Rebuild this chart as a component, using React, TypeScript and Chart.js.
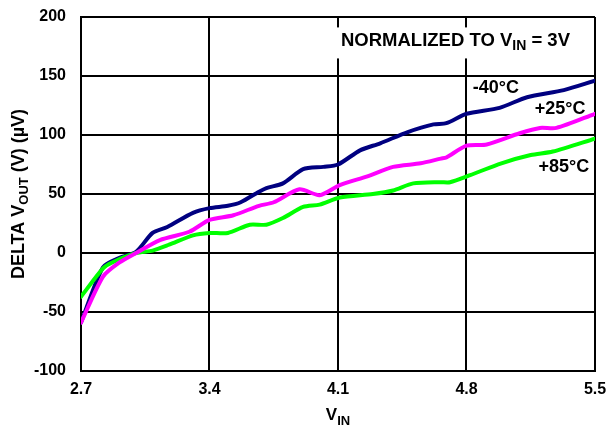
import { useEffect, useRef } from "react";
import { Chart, registerables } from "chart.js";
Chart.register(...registerables);

const X_TICKS = [2.7, 3.4, 4.1, 4.8, 5.5];
const Y_TICKS = [-100, -50, 0, 50, 100, 150, 200];

const VIN_M40 = [2.7, 2.82, 2.91, 3.0, 3.09, 3.17, 3.31, 3.4, 3.5, 3.57, 3.67, 3.71, 3.8, 3.91, 4.02, 4.1, 4.22, 4.33, 4.48, 4.62, 4.69, 4.8, 4.98, 5.13, 5.33, 5.5];
const DV_M40 = [-59, -12, -4, 1, 17, 22, 34, 38, 40, 43, 52, 55, 59, 71, 73, 75, 87, 93, 102.5, 109, 110, 118, 123, 132, 138, 146];

const VIN_P25 = [2.7, 2.82, 2.91, 3.0, 3.13, 3.29, 3.4, 3.53, 3.67, 3.75, 3.89, 4.0, 4.11, 4.26, 4.4, 4.55, 4.66, 4.69, 4.8, 4.91, 5.09, 5.2, 5.29, 5.5];
const DV_P25 = [-59, -20, -8, 0, 11, 18, 28, 32, 40, 43, 54, 49, 57.6, 65, 73, 76, 80, 81, 91, 92, 101.5, 106, 106, 118];

const VIN_P85 = [2.7, 2.82, 2.87, 3.0, 3.09, 3.18, 3.31, 3.4, 3.5, 3.62, 3.71, 3.8, 3.91, 4.0, 4.11, 4.29, 4.4, 4.51, 4.66, 4.71, 4.82, 4.99, 5.15, 5.27, 5.5];
const DV_P85 = [-37, -13, -8, 0, 2, 7, 15, 17, 17, 24, 24, 29.6, 39, 41, 47, 50, 53, 59, 60, 60, 66, 76, 83, 86, 97];

const SERIES_LABELS = ["-40°C", "+25°C", "+85°C"];
const LABEL_X = [4.96, 5.31, 5.33];
const LABEL_Y = [140, 122, 73];
const NOTE_X = 4.74;
const NOTE_Y = 181;

const FONT = '"Liberation Sans", Arial, Helvetica, sans-serif';

type Part = { t: string; sub?: boolean };

function drawRich(ctx: CanvasRenderingContext2D, parts: Part[], cx: number, baseY: number, main: number, sub: number, subDrop: number) {
  let total = 0;
  const widths = parts.map((p) => {
    ctx.font = `bold ${p.sub ? sub : main}px ${FONT}`;
    const w = ctx.measureText(p.t).width;
    total += w;
    return w;
  });
  let xx = cx - total / 2;
  ctx.textAlign = "left";
  ctx.textBaseline = "alphabetic";
  parts.forEach((p, i) => {
    ctx.font = `bold ${p.sub ? sub : main}px ${FONT}`;
    ctx.fillText(p.t, xx, baseY + (p.sub ? subDrop : 0));
    xx += widths[i];
  });
  return total;
}

const textPlugin = {
  id: "texts",
  afterDraw(chart: any) {
    const { ctx, scales, chartArea } = chart;
    const x = scales.x;
    const y = scales.y;
    ctx.save();
    ctx.fillStyle = "#000";
    ctx.font = `bold 18px ${FONT}`;
    ctx.textAlign = "center";
    ctx.textBaseline = "middle";
    SERIES_LABELS.forEach((t, i) => {
      ctx.fillText(t, x.getPixelForValue(LABEL_X[i]), y.getPixelForValue(LABEL_Y[i]));
    });

    // note with white background
    const nx = x.getPixelForValue(NOTE_X);
    const ny = y.getPixelForValue(NOTE_Y);
    const noteParts: Part[] = [{ t: "NORMALIZED TO V" }, { t: "IN", sub: true }, { t: " = 3V" }];
    let tw = 0;
    noteParts.forEach((p) => {
      ctx.font = `bold ${p.sub ? 14 : 18.5}px ${FONT}`;
      tw += ctx.measureText(p.t).width;
    });
    ctx.fillStyle = "#fff";
    ctx.fillRect(nx - tw / 2 - 5, ny - 12, tw + 10, 31);
    ctx.fillStyle = "#000";
    drawRich(ctx, noteParts, nx, ny + 6.5, 18.5, 14, 4);

    // x title
    const cxm = (chartArea.left + chartArea.right) / 2;
    drawRich(ctx, [{ t: "V" }, { t: "IN", sub: true }], cxm, 420, 17, 13, 5);

    // y title
    const cym = (chartArea.top + chartArea.bottom) / 2;
    ctx.translate(17, cym);
    ctx.rotate(-Math.PI / 2);
    drawRich(ctx, [{ t: "DELTA V" }, { t: "OUT", sub: true }, { t: " (V) (µV)" }], 0, 6.5, 18, 13, 4);
    ctx.restore();
  },
};

export default function App() {
  const ref = useRef<HTMLCanvasElement | null>(null);
  useEffect(() => {
    if (!ref.current) return;
    const mk = (xs: number[], ys: number[]) => xs.map((v, i) => ({ x: v, y: ys[i] }));
    const chart = new Chart(ref.current, {
      type: "line",
      data: {
        datasets: [
          { label: SERIES_LABELS[1], data: mk(VIN_P25, DV_P25), borderColor: "#ff00ff" },
          { label: SERIES_LABELS[2], data: mk(VIN_P85, DV_P85), borderColor: "#00ff00" },
          { label: SERIES_LABELS[0], data: mk(VIN_M40, DV_M40), borderColor: "#000080" },
        ].map((d) => ({ ...d, borderWidth: 4, pointRadius: 0, tension: 0.25, fill: false, borderCapStyle: "round" as const, borderJoinStyle: "round" as const })),
      },
      options: {
        animation: false,
        responsive: false,
        layout: { padding: { top: 17, right: 15, left: 0, bottom: 0 } },
        plugins: { legend: { display: false }, tooltip: { enabled: false }, title: { display: false } },
        scales: {
          x: {
            type: "linear",
            min: 2.7,
            max: 5.5,
            afterBuildTicks: (s: any) => {
              s.ticks = X_TICKS.map((v) => ({ value: v }));
            },
            afterFit: (s: any) => {
              s.height = 58;
              s.paddingLeft = 0;
              s.paddingRight = 0;
            },
            ticks: {
              color: "#000",
              font: { family: FONT, size: 16, weight: "bold" },
              padding: 9,
              maxRotation: 0,
              callback: (v: any) => Number(v).toFixed(1),
            },
            grid: { color: "#000", lineWidth: 2, drawTicks: false },
            border: { color: "#000", width: 2 },
          },
          y: {
            type: "linear",
            min: -100,
            max: 200,
            afterBuildTicks: (s: any) => {
              s.ticks = Y_TICKS.map((v) => ({ value: v }));
            },
            afterFit: (s: any) => {
              s.width = 81;
              s.paddingTop = 0;
              s.paddingBottom = 0;
            },
            ticks: {
              color: "#000",
              font: { family: FONT, size: 16, weight: "bold" },
              padding: 15,
              callback: (v: any) => String(v),
            },
            grid: { color: "#000", lineWidth: 2, drawTicks: false },
            border: { color: "#000", width: 2 },
          },
        },
      },
      plugins: [textPlugin],
    });
    return () => chart.destroy();
  }, []);
  return (
    <div style={{ position: "fixed", left: 0, top: 0, width: 610, height: 429, background: "#fff" }}>
      <canvas ref={ref} width={610} height={429} style={{ display: "block" }} />
    </div>
  );
}
